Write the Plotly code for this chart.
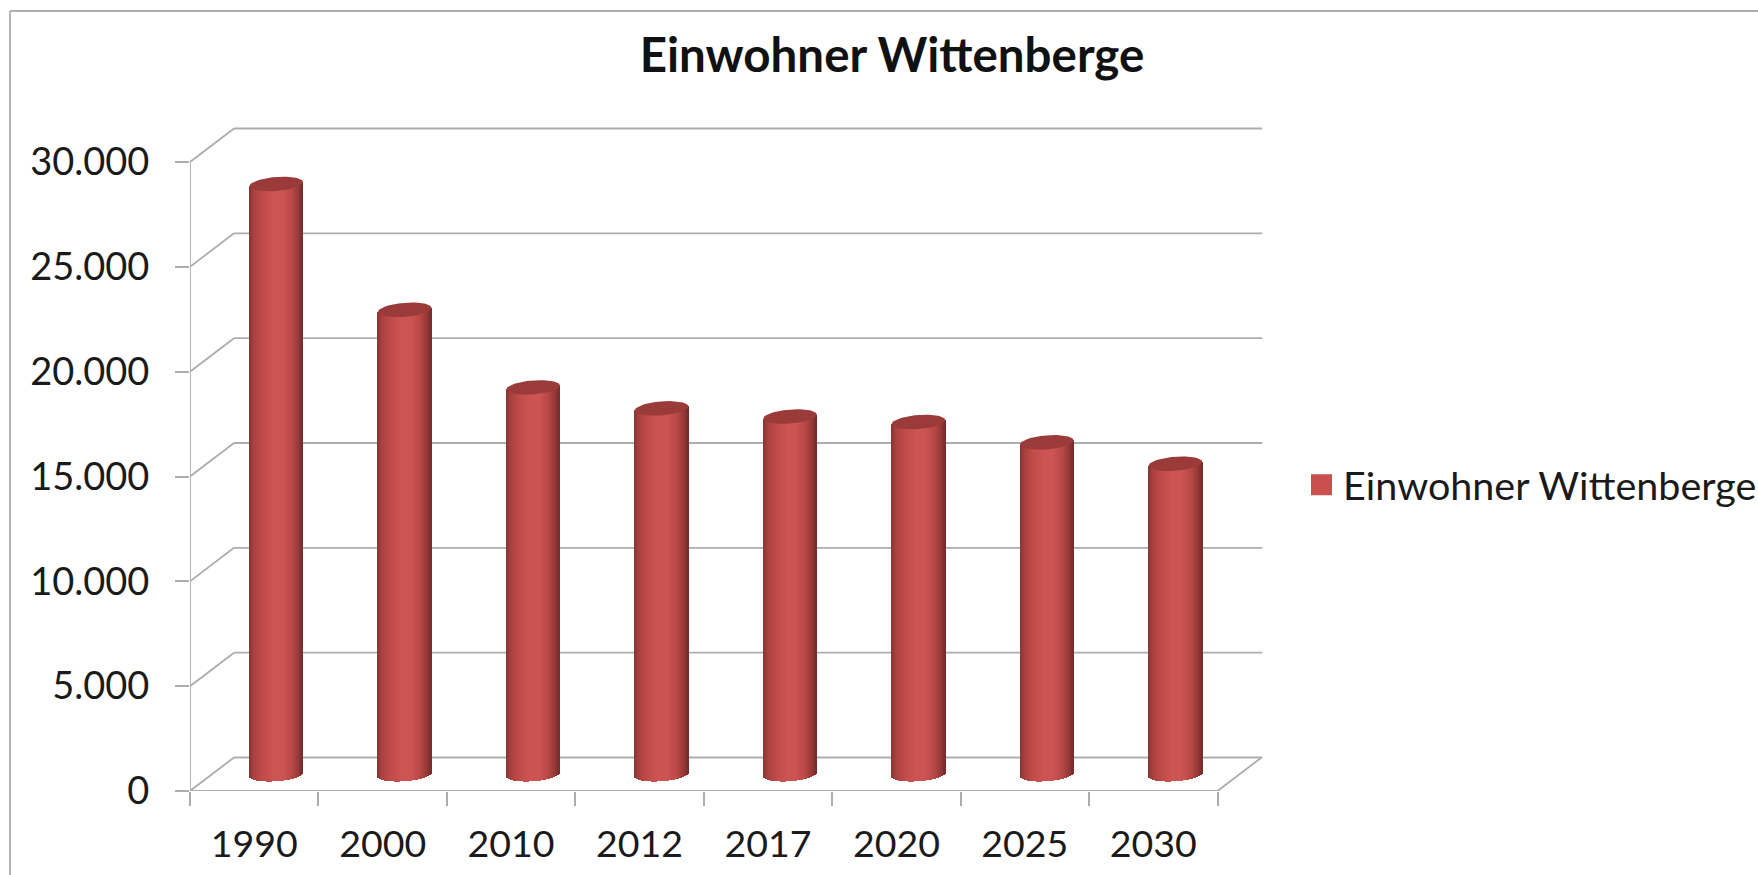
import numpy as np
import plotly.graph_objects as go

# Einwohner Wittenberge
years = ['1990', '2000', '2010', '2012', '2017', '2020', '2025', '2030']
einwohner = [28150, 22150, 18450, 17450, 17060, 16800, 15830, 14810]
y_ticks = [0, 5000, 10000, 15000, 20000, 25000, 30000]
y_labels = ['0', '5.000', '10.000', '15.000', '20.000', '25.000', '30.000']
title_text = 'Einwohner Wittenberge'

# figure is a bit wider than the window so the legend does not push a margin
W, H = 1780, 875
LEFT, FRONT_RIGHT, BACK_RIGHT = 190, 1217.5, 1262.5
BOTTOM, TOP = 791, 127
PX_X = (FRONT_RIGHT - LEFT) / len(years)
PX_Y = 629 / 30000
DEPTH_X = 44 / PX_X
DEPTH_Y = 33.5 / PX_Y

X_RANGE = [-0.5, len(years) - 0.5 + (BACK_RIGHT - FRONT_RIGHT) / PX_X]
Y_RANGE = [0, (BOTTOM - TOP) / PX_Y]

GRID = '#adadad'
LID = '#9a3b39'
RED = '#c9504f'
FONT = 'Lato, sans-serif'

# cylinder look
CYL_W = 53.5 / PX_X
ELL_B = 7 / PX_Y
ELL_TILT = 2 / PX_Y
N_STRIPS = 54
shade_pos = [-1.0, -0.85, -0.55, -0.1, 0.25, 0.6, 0.86, 1.0]
shade_rgb = [(132, 51, 49), (165, 64, 62), (190, 74, 72), (204, 84, 82),
             (204, 84, 82), (184, 72, 70), (146, 56, 54), (116, 44, 42)]


def shade(t):
    r = np.interp(t, shade_pos, [c[0] for c in shade_rgb])
    g = np.interp(t, shade_pos, [c[1] for c in shade_rgb])
    b = np.interp(t, shade_pos, [c[2] for c in shade_rgb])
    return f'rgb({r:.0f},{g:.0f},{b:.0f})'


def render_chart():
    fig = go.Figure()
    floor = DEPTH_Y / 2
    step = CYL_W / N_STRIPS

    # every cylinder is a stack of thin bars, one trace per shade
    for i in range(N_STRIPS):
        t = -1 + (i + 0.5) * 2 / N_STRIPS
        arc = ELL_B * np.sqrt(1 - t * t)
        base = floor - arc + ELL_TILT * t
        top = [v + floor + ELL_TILT * t for v in einwohner]
        fig.add_trace(go.Bar(
            x=years, y=[v - base for v in top], base=base,
            width=step * 1.25,
            offset=DEPTH_X / 2 + t * CYL_W / 2 - step / 2,
            marker=dict(color=shade(t), line=dict(width=0)),
            showlegend=False, hoverinfo='skip',
        ))

    # lids on an overlaid linear axis so they sit above the bars
    a = np.linspace(0, 2 * np.pi, 60)
    for i, v in enumerate(einwohner):
        fig.add_trace(go.Scatter(
            x=i + DEPTH_X / 2 + np.cos(a) * CYL_W / 2,
            y=v + floor + ELL_TILT * np.cos(a) + ELL_B * np.sin(a),
            xaxis='x2', yaxis='y', mode='lines', fill='toself',
            fillcolor=LID, line=dict(width=0),
            showlegend=False, hoverinfo='skip',
        ))

    # only here for the legend entry
    fig.add_trace(go.Scatter(
        x=[None], y=[None], xaxis='x2', yaxis='y', mode='markers',
        name=title_text,
        marker=dict(symbol='square', size=16, color=RED,
                    line=dict(color=RED, width=5)),
    ))

    # box: back wall, side wall, floor
    shapes = []
    def line(x0, y0, x1, y1):
        shapes.append(dict(type='line', xref='x', yref='y', x0=x0, y0=y0,
                           x1=x1, y1=y1, layer='below',
                           line=dict(color=GRID, width=1.8)))

    n = len(years)
    for v in y_ticks:
        line(-0.5, v, -0.5 + DEPTH_X, v + DEPTH_Y)
        line(-0.5 + DEPTH_X, v + DEPTH_Y, X_RANGE[1], v + DEPTH_Y)
    line(-0.5, 0, -0.5, y_ticks[-1])
    line(-0.5, 0, n - 0.5, 0)
    line(n - 0.5, 0, n - 0.5 + DEPTH_X, DEPTH_Y)

    # outer chart frame, runs off the right and bottom of the image
    for x0, y0, x1, y1 in [(10, 11, W, 11), (10, 11, 10, H)]:
        shapes.append(dict(type='line', xref='paper', yref='paper',
                           x0=x0 / W, x1=x1 / W, y0=1 - y0 / H, y1=1 - y1 / H,
                           line=dict(color='#aeaeae', width=1.8)))

    dom_x = [LEFT / W, BACK_RIGHT / W]
    fig.update_layout(
        width=W, height=H,
        margin=dict(l=0, r=0, t=0, b=0),
        paper_bgcolor='white', plot_bgcolor='white',
        barmode='overlay', bargap=0,
        font=dict(family=FONT, color='#1a1a1a'),
        title=dict(text=f'<b>{title_text}</b>', x=892 / W,
                   xanchor='center', y=1 - 55 / H, yanchor='middle',
                   font=dict(size=47.5, family=FONT, color='#111111')),
        shapes=shapes,
        legend=dict(x=1300 / W, xanchor='left',
                    y=1 - 485 / H, yanchor='middle', itemwidth=33,
                    font=dict(size=39.5, family=FONT, color='#1a1a1a'),
                    bgcolor='rgba(0,0,0,0)', itemsizing='trace'),
        xaxis=dict(domain=dom_x, type='category', categoryorder='array',
                   categoryarray=years, range=X_RANGE, tickson='boundaries',
                   ticks='outside', ticklen=14, tickwidth=1.8, tickcolor=GRID,
                   showgrid=False, showline=False, zeroline=False,
                   automargin=False,
                   ticklabelstandoff=27, tickfont=dict(size=37.5)),
        xaxis2=dict(domain=dom_x, overlaying='x', anchor='y', range=X_RANGE,
                    visible=False),
        yaxis=dict(domain=[1 - BOTTOM / H, 1 - TOP / H], range=Y_RANGE,
                   tickvals=y_ticks, ticktext=y_labels,
                   ticks='outside', ticklen=14, tickwidth=1.8, tickcolor=GRID,
                   showgrid=False, showline=False, zeroline=False,
                   automargin=False,
                   ticklabelstandoff=18, tickfont=dict(size=38)),
    )
    return fig


fig = render_chart()
# drop the default body margin so pixels line up with the window
fig.write_html('out.html', config={'displayModeBar': False},
               post_script="document.body.style.margin = '0';")
